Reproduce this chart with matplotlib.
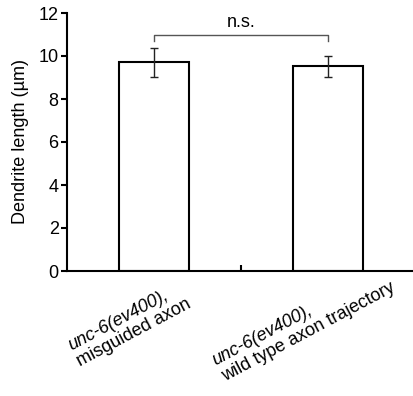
import numpy as np
import matplotlib
matplotlib.use("Agg")
import matplotlib.pyplot as plt
from matplotlib.transforms import offset_copy

plt.rcParams['font.family'] = ['Liberation Sans', 'DejaVu Sans']

line1 = ["unc-6(ev400),", "unc-6(ev400),"]
line2 = ["misguided axon", "wild type axon trajectory"]
values = [9.7, 9.52]
errors = [0.67, 0.48]
yticks = [0, 2, 4, 6, 8, 10, 12]
sig_label = "n.s."

FS = 13
fig = plt.figure(figsize=(4.13, 3.96), dpi=100)
ax = fig.add_axes([67/413, 1 - 271/396, 1 - 67/413, (271 - 13)/396])

x = np.arange(len(values))
ax.bar(x, values, width=0.40, color='white', edgecolor='black', linewidth=1.5, zorder=2)
ax.errorbar(x, values, yerr=errors, fmt='none', ecolor='#222222', elinewidth=1.0,
            capsize=3, capthick=1.0, zorder=3)

# significance bracket
yb, yl = 11.0, 10.7
ax.plot([x[0], x[0], x[1], x[1]], [yl, yb, yb, yl], color='#555555', lw=1.0, clip_on=False)
ax.text((x[0] + x[1]) / 2, 11.35, sig_label, ha='center', va='baseline', fontsize=FS)

ax.set_xlim(-0.5, 1.49)
ax.set_ylim(0, 12)
ax.set_yticks(yticks)
ax.set_yticklabels([str(t) for t in yticks], fontsize=FS)
ax.set_xticks([0.5])
ax.set_xticklabels([''])
ax.tick_params(axis='x', direction='in', length=4, width=1.5)
ax.tick_params(axis='y', direction='out', length=4, width=1.5, pad=2)
for s in ['top', 'right']:
    ax.spines[s].set_visible(False)
for s in ['left', 'bottom']:
    ax.spines[s].set_linewidth(1.5)
ax.set_ylabel("Dendrite length (µm)", fontsize=FS, labelpad=7)

# rotated two-line category labels (first line italic)
theta = np.deg2rad(28)
r = fig.canvas.get_renderer()
trans = ax.get_xaxis_transform()
for xi, a, b in zip(x, line1, line2):
    tmp = fig.text(0, 0, b, fontsize=FS)
    w = tmp.get_window_extent(r).width
    tmp.remove()
    cx, cy = -17.5, -65.3
    sx = cx - (w / 2) * np.cos(theta)
    sy = cy - (w / 2) * np.sin(theta)
    t2 = offset_copy(trans, fig=fig, x=sx, y=sy, units='dots')
    ax.text(xi, 0, b, transform=t2, rotation=28, rotation_mode='anchor',
            ha='left', va='baseline', fontsize=FS)
    gap = 18.4
    s1x = sx - gap * np.sin(theta) - 1.0 * np.cos(theta)
    s1y = sy + gap * np.cos(theta) - 1.0 * np.sin(theta)
    t1 = offset_copy(trans, fig=fig, x=s1x, y=s1y, units='dots')
    ax.text(xi, 0, a, transform=t1, rotation=28, rotation_mode='anchor',
            ha='left', va='baseline', fontsize=FS, fontstyle='italic')

fig.savefig("out.png", dpi=100)
